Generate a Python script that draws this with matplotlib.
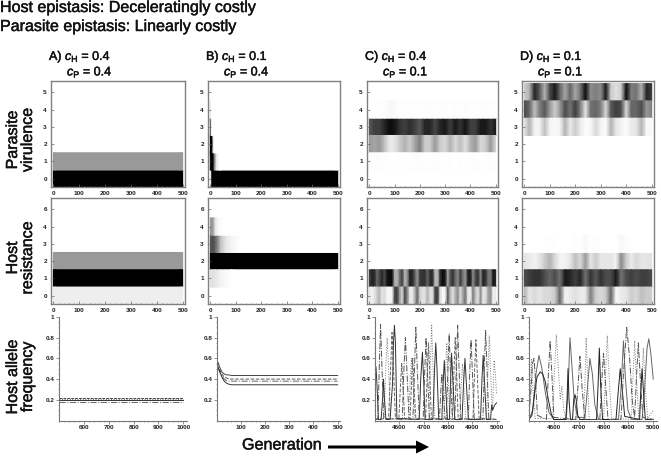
import numpy as np
import matplotlib
matplotlib.use('Agg')
import matplotlib.pyplot as plt
import matplotlib.patheffects as pe
from matplotlib.patches import FancyArrow

plt.rcParams['font.family'] = ['Liberation Sans', 'DejaVu Sans']
plt.rcParams['mathtext.fontset'] = 'custom'
plt.rcParams['mathtext.rm'] = 'Liberation Sans'
plt.rcParams['mathtext.it'] = 'Liberation Sans:italic'

W, H = 661, 457

titles = ['A', 'B', 'C', 'D']
c_h = ['0.4', '0.1', '0.4', '0.1']
c_p = ['0.4', '0.4', '0.1', '0.1']

g20 = list(range(0, 501, 20))
g10 = list(range(0, 501, 10))

# darkness of each band, 0 white, 1 black
vir_c3 = [.65,.75,.75,.85,.95,.92,.8,.75,.82,.75,.65,.85,.85,.72,.85,.9,.75,.9,.8,.92,.75,.75,.9,.9,.8,.9]
vir_c2 = [.4,.35,.4,.25,.08,.1,.2,.3,.2,.35,.5,.2,.2,.4,.2,.15,.3,.15,.25,.12,.3,.4,.15,.2,.4,.15]
vir_c4 = [0,.005,.005,.01,.03,.02,.005,.005,.01,.005,0,.01,.01,.005,.01,.01,.005,.01,.005,.01,.005,.005,.01,.01,.005,.01]
vir_c1 = [.015,.01,.015,.005,0,0,.005,.005,.005,.01,.015,.005,.005,.01,.005,0,.005,0,.005,0,.005,.01,0,.005,.01,0]
vir_d5 = [.2,.3,.85,.65,.3,.7,.9,.6,.35,.6,.35,.55,.95,.45,.5,.45,.9,.2,.12,.2,.95,.5,.55,.3,.85,.75]
vir_d4 = [.7,.6,.25,.5,.65,.4,.2,.4,.7,.55,.75,.5,.1,.55,.6,.5,.15,.65,.75,.7,.15,.6,.6,.7,.4,.5]
vir_d3 = [.1,.3,.05,.05,.25,.05,.02,.05,.3,.08,.2,.08,.01,.03,.15,.05,.01,.3,.1,.05,.01,.08,.1,.3,.02,.03]
res_c1 = [.75,.85,.85,.6,.7,.85,.7,.9,.95,.95,.35,.3,.55,.75,.3,.4,.85,.85,.65,.4,.75,.8,.8,.6,.8,.85,.3,.25,.8,.95,.9,
          .35,.65,.8,.6,.45,.75,.55,.4,.85,.9,.45,.7,.8,.45,.85,.8,.55,.5,.9,.85]
res_c0 = [.1,.05,.1,.2,.3,.1,.15,.05,.03,.05,.7,.75,.4,.15,.7,.5,.1,.08,.3,.6,.2,.12,.12,.3,.15,.1,.7,.8,.15,.03,.05,
          .65,.3,.12,.3,.45,.15,.35,.55,.1,.05,.5,.25,.12,.45,.1,.12,.35,.45,.05,.1]
res_d2 = [.1,.08,.05,.1,.2,.3,.15,.05,.05,.1,.25,.15,.4,.1,.2,.1,.1,.1,.05,.45,.2,.08,.15,.1,.1,.12]
res_d1 = [.7,.75,.8,.8,.7,.6,.7,.55,.9,.85,.75,.85,.55,.8,.65,.8,.7,.7,.9,.55,.7,.75,.7,.75,.75,.7]
res_d0 = [.3,.1,.15,.1,.15,.15,.2,.6,.05,.08,.12,.08,.08,.5,.2,.15,.2,.6,.03,.08,.1,.2,.15,.25,.2,.2]
res_d3 = [0,0,0,0,0,.01,0,0,0,0,.01,0,.03,0,.01,0,0,0,0,.03,.01,0,0,0,0,0]

# panel: list of (row, generations, darkness)
heat_vir = [
    [(0, [0, 500], [1, 1]), (1, [0, 500], [.4, .4])],
    [(0, [0, 4, 6, 500], [0, .2, 1, 1]),
     (1, [0, 3, 10, 14, 18, 24, 34, 500], [.9, 1, 1, .8, .4, .1, 0, 0]),
     (2, [0, 5, 9, 11, 15, 500], [1, 1, .9, .2, 0, 0]),
     (3, [0, 2, 4, 6, 8, 500], [.6, .7, .3, .05, 0, 0]),
     (4, [0, 2, 4, 6, 500], [.1, .1, .02, 0, 0])],
    [(3, g20, vir_c3), (2, g20, vir_c2), (4, g20, vir_c4), (1, g20, vir_c1)],
    [(5, g20, vir_d5), (4, g20, vir_d4), (3, g20, vir_d3)],
]
heat_res = [
    [(2, [0, 500], [.4, .4]), (1, [0, 500], [1, 1]), (0, [0, 500], [.07, .07])],
    [(2, [0, 500], [1, 1]),
     (3, [0, 10, 20, 30, 40, 60, 80, 100, 120, 500], [.65, .7, .6, .45, .25, .1, .05, .02, 0, 0]),
     (4, [0, 10, 15, 20, 30, 50, 500], [.4, .4, .25, .1, .03, 0, 0]),
     (1, [0, 10, 20, 40, 60, 80, 500], [.12, .12, .1, .05, .02, 0, 0])],
    [(1, g10, res_c1), (0, g10, res_c0)],
    [(2, g20, res_d2), (1, g20, res_d1), (0, g20, res_d0), (3, g20, res_d3)],
]

# allele frequency lines
a_gen = [500, 1000]
a_lines = [[.22, .22], [.21, .21], [.195, .195], [.178, .178]]
b_gen = [0, 5, 10, 20, 30, 40, 50, 60, 80, 100, 500]
b_lines = [[.50, .56, .52, .47, .45, .44, .44, .435, .435, .435, .435],
           [.50, .52, .50, .45, .42, .41, .40, .40, .40, .40, .40],
           [.50, .50, .48, .43, .40, .385, .38, .38, .38, .38, .38],
           [.50, .51, .48, .42, .38, .36, .35, .345, .345, .345, .345]]

c_solid_g = [4500,4504,4508,4514,4525,4531,4535,4539,4545,4562,4572,4576,4580,4584,4590,4682,4688,4695,4700,4706,4738,4745,4750,4755,4762,4775,
             4780,4785,4790,4798,4806,4811,4815,4820,4828,4858,4864,4870,4876,4884,4934,4940,4945,4950,4958,4975,4980,4984,4992,5000]
c_solid_v = [.30,.52,.35,.01,.01,.2,.4,.2,.01,.01,.35,.75,.92,.75,.02,.01,.4,.66,.4,.01,.01,.5,.75,.5,.01,.01,
             .35,.58,.35,.01,.01,.4,.65,.4,.01,.01,.35,.6,.35,.01,.01,.4,.63,.4,.01,.01,.15,.1,.15,.17]
c_dd_g = [4500,4512,4518,4523,4528,4536,4612,4619,4625,4631,4640,4656,4663,4668,4673,4682,4698,4705,4710,4715,4724,4765,4771,4775,4780,4788,
          4793,4800,4805,4810,4818,4828,4835,4840,4845,4853,4884,4890,4895,4900,4908,4944,4950,4955,4960,4968,5000]
c_dd_v = [.01,.02,.55,.93,.55,.02,.01,.5,.8,.5,.02,.01,.55,.9,.55,.02,.01,.5,.8,.5,.02,.01,.3,.45,.3,.02,
          .01,.5,.84,.5,.02,.01,.55,.92,.55,.02,.01,.5,.78,.5,.02,.01,.55,.87,.55,.02,.01]
c_dash_g = [4500,4556,4564,4570,4576,4584,4598,4605,4610,4615,4622,4644,4650,4655,4660,4668,4708,4715,4720,4725,4732,4818,4825,4830,4835,4842,
            4903,4910,4915,4920,4928,5000]
c_dash_v = [.01,.02,.5,.85,.5,.02,.01,.35,.55,.35,.02,.01,.35,.6,.35,.02,.01,.45,.75,.45,.02,.01,.5,.8,.5,.02,
            .01,.5,.78,.5,.02,.01]
c_dot_g = [4500,4538,4544,4550,4556,4564,4638,4644,4650,4656,4664,4721,4728,4733,4738,4746,4783,4790,4795,4800,4808,4848,4855,4860,4865,4873,
           4958,4965,4970,4975,4982,4985,4990,4995,5000]
c_dot_v = [.01,.02,.5,.8,.5,.02,.01,.35,.6,.35,.02,.01,.55,.93,.55,.02,.01,.45,.75,.45,.02,.01,.35,.55,.35,.02,
           .01,.5,.82,.5,.1,.2,.58,.45,.25]

d_solid_g = [4500,4512,4522,4532,4545,4555,4565,4578,4590,4600,4648,4653,4657,4661,4667,4675,4680,4685,4690,4696,4705,4772,4778,4783,4788,4796,
             4850,4858,4867,4875,4885,4945,4950,4955,4960,4968,5000]
d_solid_v = [.01,.05,.25,.42,.47,.45,.38,.2,.06,.01,.01,.2,.5,.2,.01,.01,.2,.25,.2,.05,.01,.01,.35,.7,.35,.01,
             .01,.25,.5,.3,.04,.01,.3,.5,.3,.01,.01]
d_gray_g = [4500,4515,4528,4540,4552,4565,4580,4600,4650,4658,4665,4672,4682,4695,4725,4733,4745,4755,4765,4780,4860,4870,4880,4888,4898,4912,
            4955,4965,4975,4982,4990,5000]
d_gray_v = [.01,.1,.45,.63,.5,.28,.08,.01,.01,.35,.8,.55,.2,.03,.03,.25,.6,.45,.15,.01,.01,.3,.77,.4,.1,.01,
            .01,.3,.7,.79,.65,.4]
d_dd_g = [4500,4508,4514,4520,4526,4534,4570,4578,4585,4592,4600,4688,4696,4705,4714,4725,4785,4792,4800,4808,4818,4870,4880,4893,4905,4915,4925,
          4932,4940,4948,4958,5000]
d_dd_v = [.05,.3,.55,.6,.4,.05,.01,.45,.77,.45,.03,.01,.3,.62,.3,.01,.01,.35,.65,.35,.01,.01,.45,.9,.6,.2,.03,
          .4,.75,.4,.03,.01]
d_dot_g = [4500,4505,4510,4516,4525,4595,4602,4610,4618,4626,4632,4640,4650,4720,4726,4730,4735,4742,4800,4808,4815,4822,4832,4912,4918,4925,4932,4942,
           4952,4960,4968,4978,5000]
d_dot_v = [.01,.3,.6,.3,.02,.02,.45,.83,.5,.2,.33,.1,.01,.01,.45,.8,.45,.01,.01,.45,.82,.45,.02,.01,.4,.77,.4,.02,
           .3,.7,.3,.02,.1]

freq_data = [
    [(a_gen, a_lines[0]), (a_gen, a_lines[1]), (a_gen, a_lines[2]), (a_gen, a_lines[3])],
    [(b_gen, b_lines[0]), (b_gen, b_lines[1]), (b_gen, b_lines[2]), (b_gen, b_lines[3])],
    [(c_dash_g, c_dash_v), (c_dot_g, c_dot_v), (c_solid_g, c_solid_v), (c_dd_g, c_dd_v)],
    [(d_gray_g, d_gray_v), (d_dot_g, d_dot_v), (d_solid_g, d_solid_v), (d_dd_g, d_dd_v)],
]
a_styles = [('#444444', (0, (3, 1))), ('#666666', ':'), ('#333333', '-'), ('#666666', '-.')]
b_styles = [('#444444', '-'), ('#555555', '--'), ('#666666', '-.'), ('#333333', '-')]
c_styles = [('#666666', '--'), ('#777777', ':'), ('#333333', '-'), ('#555555', '-.')]
d_styles = [('#666666', '-'), ('#777777', ':'), ('#222222', '-'), ('#555555', '-.')]
freq_styles = [a_styles, b_styles, c_styles, d_styles]

heat_left = [51, 208, 367, 522]
heat_right = [185, 340, 498, 654]
freq_left = [59, 217, 375, 529]
freq_right = [187, 340, 499, 657]
freq_xlim = [(500, 1015), (0, 510), (4500, 5010), (4500, 5015)]
freq_ticks = [range(600, 1001, 100), range(100, 501, 100), range(4600, 5001, 100), range(4600, 5001, 100)]
freq_minor = [range(500, 1001, 20), range(0, 501, 20), range(4500, 5001, 20), range(4500, 5001, 20)]

stroke = [pe.withStroke(linewidth=.35, foreground='#222222')]


def add_ax(fig, x0, y0, x1, y1):
    return fig.add_axes([x0 / W, 1 - y1 / H, (x1 - x0) / W, (y1 - y0) / H])


def bold_ticks(ax):
    for t in ax.get_xticklabels() + ax.get_yticklabels():
        t.set_fontweight('bold')


def heat_panel(ax, rows, ylabels):
    for r, gens, dark in rows:
        ax.pcolormesh(gens, [r - .5, r + .5], [dark, dark], shading='gouraud',
                      cmap='gray_r', vmin=0, vmax=1, rasterized=True)
    ax.set_xlim(-9, 509)
    ax.set_ylim(-.48, 5.65)
    ax.set_xticks(range(0, 501, 100))
    ax.set_xticks(range(0, 501, 20), minor=True)
    ax.set_yticks(range(6))
    ax.set_yticklabels(ylabels)
    ax.tick_params(axis='both', which='major', length=2, width=.5, direction='in', color='#666666',
                   labelsize=4.6, pad=3, labelcolor='#222222')
    ax.tick_params(axis='x', which='minor', length=1, width=.4, direction='in', color='#666666')
    bold_ticks(ax)
    for s in ax.spines.values():
        s.set_color('#808080')
        s.set_linewidth(1)


fig = plt.figure(figsize=(W / 100, H / 100), dpi=100)

fig.text(0, 1 - 7.5 / H, 'Host epistasis: Deceleratingly costly', fontsize=11.55, va='center', ha='left',
         color='#111111', path_effects=stroke)
fig.text(0, 1 - 26.5 / H, 'Parasite epistasis: Linearly costly', fontsize=11.55, va='center', ha='left',
         color='#111111', path_effects=stroke)

for i in range(4):
    heat_panel(add_ax(fig, heat_left[i], 81, heat_right[i], 187), heat_vir[i], ['0', '1', '2', '3', '4', '5'])
    heat_panel(add_ax(fig, heat_left[i], 198, heat_right[i], 304), heat_res[i], ['0', '1', '2', '3', '4', '6'])

    hx = heat_left[i] - 2
    fig.text(hx / W, 1 - 57 / H, titles[i] + r') $c_{\mathrm{H}}$ = ' + c_h[i], fontsize=9, va='center', ha='left',
             color='#111111', path_effects=stroke)
    fig.text((hx + 18) / W, 1 - 72 / H, r'$c_{\mathrm{P}}$ = ' + c_p[i], fontsize=9, va='center', ha='left',
             color='#111111', path_effects=stroke)

    ax = add_ax(fig, freq_left[i], 317, freq_right[i], 420.5)
    for (gens, vals), (col, ls) in zip(freq_data[i], freq_styles[i]):
        ax.plot(gens, vals, color=col, ls=ls, lw=.7)
    ax.set_xlim(*freq_xlim[i])
    ax.set_ylim(0, 1)
    ax.set_xticks(list(freq_ticks[i]))
    ax.set_xticks(list(freq_minor[i]), minor=True)
    ax.set_yticks([.2, .4, .6, .8, 1])
    ax.set_yticklabels(['0.2', '0.4', '0.6', '0.8', '1'])
    ax.set_yticks(np.arange(.05, 1, .05), minor=True)
    ax.tick_params(axis='both', which='major', length=2, width=.5, color='#666666', labelsize=4.6, pad=1.5, labelcolor='#222222')
    ax.tick_params(axis='both', which='minor', length=1, width=.4, color='#666666')
    bold_ticks(ax)
    ax.spines['top'].set_visible(False)
    ax.spines['right'].set_visible(False)
    ax.spines['left'].set_color('#777777')
    ax.spines['bottom'].set_color('#777777')
    ax.patch.set_alpha(0)

for label, yc in [('Parasite\nvirulence', 140), ('Host\nresistance', 258), ('Host allele\nfrequency', 377)]:
    fig.text(20 / W, 1 - yc / H, label, rotation=90, fontsize=11.55, va='center', ha='center', ma='center',
             linespacing=1.0, color='#111111', path_effects=stroke)

fig.text(242 / W, 1 - 445 / H, 'Generation', fontsize=11.6, va='center', ha='left', color='#111111', path_effects=stroke)
overlay = fig.add_axes([0, 0, 1, 1])
overlay.set_xlim(0, W)
overlay.set_ylim(H, 0)
overlay.axis('off')
overlay.add_patch(FancyArrow(328, 447, 101, 0, width=3, head_width=13, head_length=13,
                             length_includes_head=True, color='black', lw=0))

fig.savefig('out.png', dpi=100)
